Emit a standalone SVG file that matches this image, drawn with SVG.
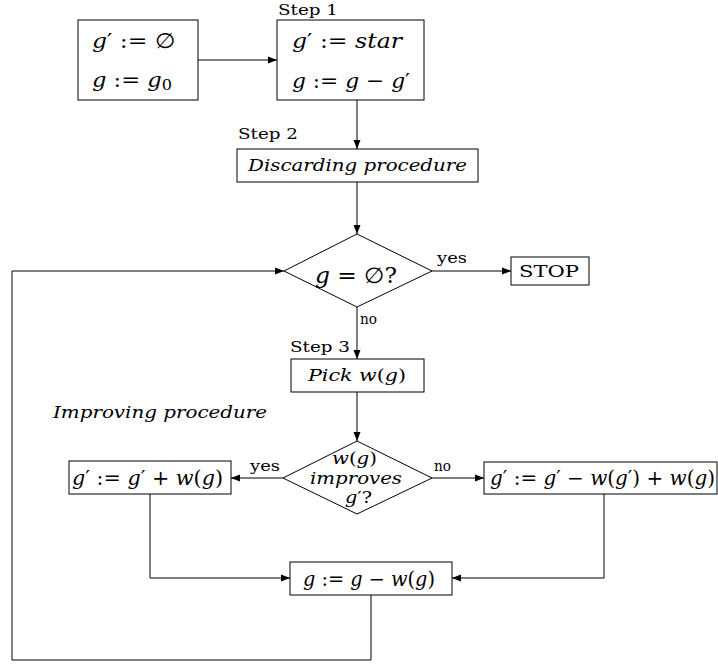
<svg xmlns="http://www.w3.org/2000/svg" width="718" height="665" viewBox="0 0 718 665" font-family="'DejaVu Serif','Liberation Serif',serif">
<defs>
<style>
.b{fill:#fff;stroke:#000;stroke-width:1}
.c{fill:none;stroke:#000;stroke-width:1}
text{font-family:'DejaVu Serif','Liberation Serif',serif;fill:#000}
.m{font-style:italic}
.u{font-style:normal}
.l{font-size:15px}
</style>
<marker id="a" markerWidth="10" markerHeight="8" refX="9" refY="4" orient="auto" markerUnits="userSpaceOnUse">
<path d="M0,0.5 L9,4 L0,7.5 z" fill="#000"/>
</marker>
</defs>
<rect width="718" height="665" fill="#fff"/>
<g id="connectors">
<line class="c" x1="198" y1="60" x2="277" y2="60" marker-end="url(#a)"/>
<line class="c" x1="357" y1="100" x2="357" y2="149" marker-end="url(#a)"/>
<line class="c" x1="357" y1="182" x2="357" y2="234" marker-end="url(#a)"/>
<line class="c" x1="432" y1="271" x2="511" y2="271" marker-end="url(#a)"/>
<line class="c" x1="357" y1="307" x2="357" y2="359" marker-end="url(#a)"/>
<line class="c" x1="357" y1="392" x2="357" y2="441" marker-end="url(#a)"/>
<line class="c" x1="283" y1="478" x2="231" y2="478" marker-end="url(#a)"/>
<line class="c" x1="432" y1="478" x2="484" y2="478" marker-end="url(#a)"/>
<polyline class="c" points="150,494 150,578 290,578" marker-end="url(#a)"/>
<polyline class="c" points="604,494 604,578 452,578" marker-end="url(#a)"/>
<polyline class="c" points="371,595 371,660 12,660 12,271 284,271" marker-end="url(#a)"/>
<text class="l" x="437" y="263" textLength="30" lengthAdjust="spacingAndGlyphs">yes</text>
<text class="l" x="360" y="324" textLength="17" lengthAdjust="spacingAndGlyphs">no</text>
<text class="l" x="250" y="471" textLength="30" lengthAdjust="spacingAndGlyphs">yes</text>
<text class="l" x="434" y="471" textLength="17" lengthAdjust="spacingAndGlyphs">no</text>
</g>
<g id="init">
<rect class="b" x="78" y="20" width="120" height="80"/>
<text x="92" y="48" font-size="21" textLength="83" lengthAdjust="spacingAndGlyphs"><tspan class="m">g</tspan>′ := ∅</text>
<text x="92" y="87" font-size="21" textLength="80" lengthAdjust="spacingAndGlyphs"><tspan class="m">g</tspan> := <tspan class="m">g</tspan><tspan font-size="15" dy="3">0</tspan></text>
</g>
<g id="step1">
<text class="l" x="278" y="15" textLength="60" lengthAdjust="spacingAndGlyphs">Step 1</text>
<rect class="b" x="277" y="20" width="147" height="80"/>
<text x="292" y="48" font-size="21" textLength="110" lengthAdjust="spacingAndGlyphs"><tspan class="m">g</tspan>′ := <tspan class="m">star</tspan></text>
<text x="292" y="88" font-size="21" textLength="118" lengthAdjust="spacingAndGlyphs"><tspan class="m">g</tspan> := <tspan class="m">g</tspan> − <tspan class="m">g</tspan>′</text>
</g>
<g id="step2">
<text class="l" x="238" y="139" textLength="60" lengthAdjust="spacingAndGlyphs">Step 2</text>
<rect class="b" x="237" y="149" width="241" height="33"/>
<text class="m" x="248" y="171" font-size="17" textLength="219" lengthAdjust="spacingAndGlyphs">Discarding procedure</text>
</g>
<g id="test-empty">
<polygon class="b" points="357,234 432,271 357,307 284,271"/>
<text x="315" y="283" font-size="22" textLength="82" lengthAdjust="spacingAndGlyphs"><tspan class="m">g</tspan> = ∅?</text>
</g>
<g id="stop">
<rect class="b" x="511" y="257" width="78" height="28"/>
<text x="519" y="277" font-size="16" textLength="60" lengthAdjust="spacingAndGlyphs">STOP</text>
</g>
<g id="step3">
<text class="l" x="290" y="352" textLength="60" lengthAdjust="spacingAndGlyphs">Step 3</text>
<rect class="b" x="291" y="359" width="133" height="33"/>
<text x="308" y="381" font-size="17" class="m" textLength="98" lengthAdjust="spacingAndGlyphs">Pick w<tspan class="u">(</tspan>g<tspan class="u">)</tspan></text>
</g>
<g id="improving-label">
<text class="m" x="53" y="418" font-size="16" textLength="214" lengthAdjust="spacingAndGlyphs">Improving procedure</text>
</g>
<g id="test-improves">
<polygon class="b" points="357,441 432,478 357,514 283,478"/>
<text x="332" y="464" font-size="16" textLength="45" lengthAdjust="spacingAndGlyphs"><tspan class="m">w</tspan>(<tspan class="m">g</tspan>)</text>
<text class="m" x="310" y="484" font-size="16" textLength="92" lengthAdjust="spacingAndGlyphs">improves</text>
<text x="345" y="503" font-size="16" textLength="27" lengthAdjust="spacingAndGlyphs"><tspan class="m">g</tspan>′?</text>
</g>
<g id="add">
<rect class="b" x="69" y="461" width="162" height="33"/>
<text x="72" y="485" font-size="20" textLength="151" lengthAdjust="spacingAndGlyphs"><tspan class="m">g</tspan>′ := <tspan class="m">g</tspan>′ + <tspan class="m">w</tspan>(<tspan class="m">g</tspan>)</text>
</g>
<g id="swap">
<rect class="b" x="484" y="462" width="233" height="32"/>
<text x="490" y="485" font-size="20" textLength="225" lengthAdjust="spacingAndGlyphs"><tspan class="m">g</tspan>′ := <tspan class="m">g</tspan>′ − <tspan class="m">w</tspan>(<tspan class="m">g</tspan>′) + <tspan class="m">w</tspan>(<tspan class="m">g</tspan>)</text>
</g>
<g id="remove">
<rect class="b" x="290" y="562" width="162" height="33"/>
<text x="303" y="586" font-size="20" textLength="132" lengthAdjust="spacingAndGlyphs"><tspan class="m">g</tspan> := <tspan class="m">g</tspan> − <tspan class="m">w</tspan>(<tspan class="m">g</tspan>)</text>
</g>
</svg>
